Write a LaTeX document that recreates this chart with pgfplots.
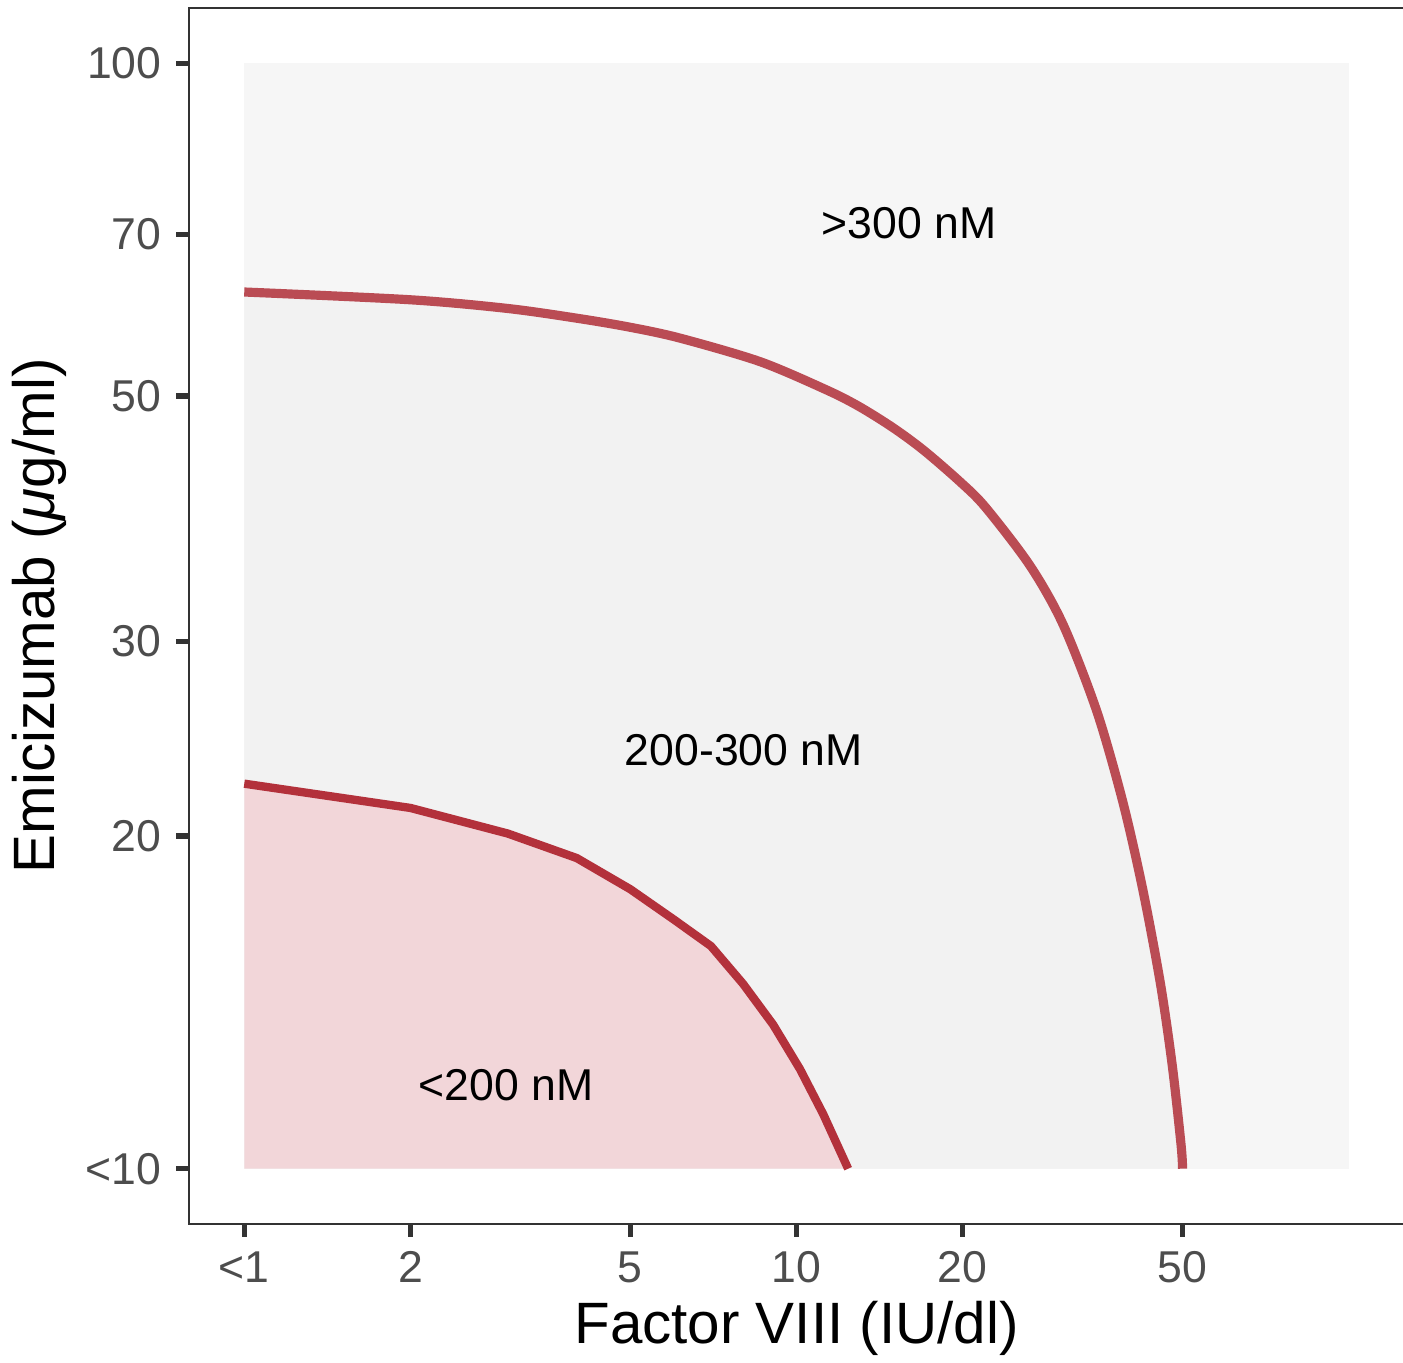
\documentclass[border=0pt]{standalone}
\usepackage{fontspec}
\setmainfont{Liberation Sans}
\usepackage{pgfplots}
\pgfplotsset{compat=1.18}
\definecolor{bgout}{HTML}{F6F6F6}
\definecolor{bgmid}{HTML}{F2F2F2}
\definecolor{bgpink}{HTML}{F2D6D9}
\definecolor{lineup}{HTML}{BA4C54}
\definecolor{linelow}{HTML}{B3313B}
\definecolor{axgray}{HTML}{333333}
\definecolor{tickgray}{HTML}{4D4D4D}
\begin{document}
\begin{tikzpicture}
\path[use as bounding box] (-45.36pt,-33.12pt) rectangle (291.36pt,293.76pt);
\begin{axis}[
  at={(0,0)}, anchor=south west,
  scale only axis,
  width=291.6pt, height=291.84pt,
  xmode=log, ymode=log,
  xmin=0.7943, xmax=125.89,
  ymin=8.9125, ymax=112.2,
  xtick={1,2,5,10,20,50},
  xticklabels={<1,2,5,10,20,50},
  ytick={10,20,30,50,70,100},
  yticklabels={<10,20,30,50,70,100},
  minor xtick={}, minor ytick={},
  tick align=outside, tick pos=left,
  major tick length=3.1pt,
  tick style={draw=axgray, line width=1.3pt},
  axis line style={draw=axgray, line width=0.6pt},
  /pgf/number format/assume math mode=true,
  ticklabel style={font=\fontsize{10.7}{12}\selectfont, text=tickgray},
  label style={font=\fontsize{14}{16}\selectfont, text=black},
  xlabel={Factor VIII (IU/dl)},
  ylabel={Emicizumab (\textit{μ}g/ml)},
  xlabel shift=-2.5pt,
  ylabel shift=-2.3pt,
]
\addplot[fill=bgout, draw=none] coordinates {(1,10) (100,10) (100,100) (1,100)} -- cycle;
\addplot[fill=bgmid, draw=none, smooth] coordinates {
(1,62.1) (2,61.1) (3,60.0) (4,58.8) (5,57.7) (6.16,56.4) (8.6,53.7) (11.37,50.6) (13,48.9)
(14.96,46.8) (17,44.65) (19.8,41.8) (22,39.65) (26.49,35.1) (30.4,31.05) (35.0,25.9) (39.0,21.45)
(42.4,17.85) (45.6,14.7) (47.9,12.4) (49.7,10.5) (50,10)} -- (axis cs:1,10) -- cycle;
\addplot[fill=bgpink, draw=none] coordinates {
(1,10) (1,22.3) (2,21.2) (3,20.1) (4,19.1) (5,17.9) (6,16.8) (7,15.9) (8,14.7) (9.07,13.5)
(10.15,12.3) (11.18,11.2) (12.4,10)} -- cycle;
\addplot[draw=lineup, line width=2.2pt, smooth] coordinates {
(1,62.1) (2,61.1) (3,60.0) (4,58.8) (5,57.7) (6.16,56.4) (8.6,53.7) (11.37,50.6) (13,48.9)
(14.96,46.8) (17,44.65) (19.8,41.8) (22,39.65) (26.49,35.1) (30.4,31.05) (35.0,25.9) (39.0,21.45)
(42.4,17.85) (45.6,14.7) (47.9,12.4) (49.7,10.5) (50,10)};
\addplot[draw=linelow, line width=2.0pt] coordinates {
(1,22.3) (2,21.2) (3,20.1) (4,19.1) (5,17.9) (6,16.8) (7,15.9) (8,14.7) (9.07,13.5)
(10.15,12.3) (11.18,11.2) (12.4,10)};
\node[font=\fontsize{10.7}{12}\selectfont, inner sep=0pt] at (axis cs:16.0,71.7) {>300 nM};
\node[font=\fontsize{10.7}{12}\selectfont, inner sep=0pt] at (axis cs:8.03,23.9) {200-300 nM};
\node[font=\fontsize{10.7}{12}\selectfont, inner sep=0pt] at (axis cs:2.98,11.9) {<200 nM};
\end{axis}
\end{tikzpicture}
\end{document}
